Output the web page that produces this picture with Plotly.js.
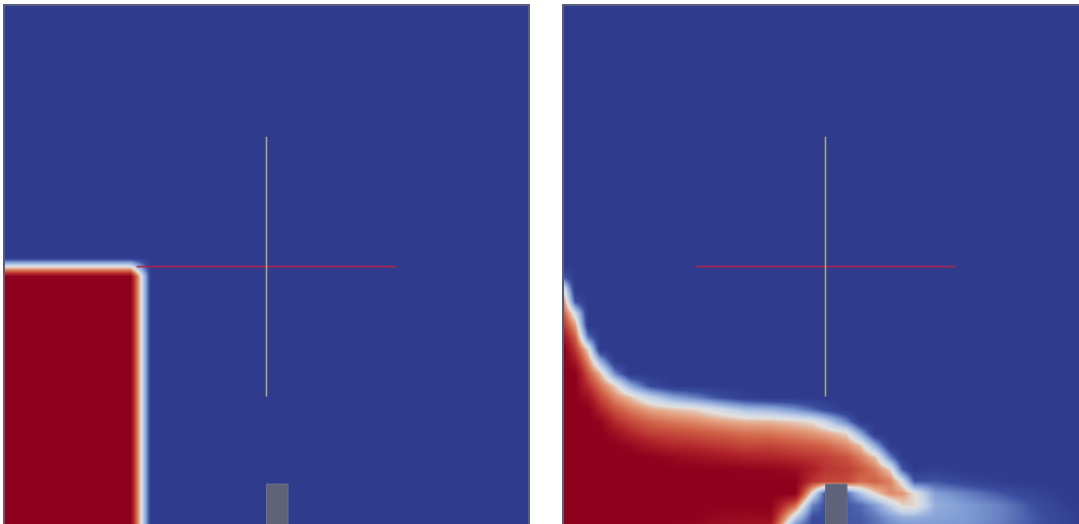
<!DOCTYPE html>
<html>
<head>
<meta charset="utf-8">
<script src="https://cdn.plot.ly/plotly-3.0.1.min.js"></script>
<style>
  html, body { margin: 0; padding: 0; overflow: hidden; background: #ffffff; }
  #chart { width: 1090px; height: 530px; }
</style>
</head>
<body>
<div id="chart"></div>
<script>
// ---- Data (metres, dam-break tank 0.584 x 0.584) ----
const TANK = [0, 0.584];

// Left panel: initial water column (volume fraction, bilinear-smoothed)
const X_LEFT = [0, 0.1400, 0.1630, 0.584];
const Y_LEFT = [0, 0.2820, 0.3040, 0.584];
const ALPHA_LEFT = [
  [1, 1, 0, 0],
  [1, 1, 0, 0],
  [0, 0, 0, 0],
  [0, 0, 0, 0]
];

// Right panel: later time, water fraction sampled on a coarse grid
const X_RIGHT = [0, 0.0123, 0.0268, 0.0402, 0.0569, 0.0737, 0.0960, 0.1206, 0.1463, 0.1742,
  0.2021, 0.2300, 0.2579, 0.2769, 0.2914, 0.3149, 0.3305, 0.3473, 0.3640, 0.3774,
  0.3908, 0.4143, 0.4478, 0.4868, 0.5259, 0.5650, 0.5840];
const Y_RIGHT = [0, 0.0134, 0.0268, 0.0402, 0.0536, 0.0670, 0.0804, 0.0938, 0.1072, 0.1206,
  0.1340, 0.1474, 0.1608, 0.1742, 0.1876, 0.2010, 0.2144, 0.2278, 0.2412, 0.2546,
  0.2680, 0.2814, 0.2948, 0.5840];
const ALPHA_RIGHT = [
  [1,1,1,1,1,1,1,1,.95,.93,.92,.88,.15,.08,.1,.12,.12,.16,.2,.2,.22,.23,.23,.18,.11,.04,0],
  [1,1,1,1,1,1,1,1,1,.97,.96,.97,.4,.1,.1,.12,.13,.18,.25,.3,.3,.27,.25,.2,.12,.04,0],
  [1,1,1,1,1,1,1,1,1,1,1,1,.7,.2,.1,.12,.15,.25,.4,.52,.52,.3,.25,.2,.1,.02,0],
  [1,1,1,1,1,1,1,1,1,1,1,1,1,.48,.1,.15,.35,.52,.64,.62,.5,.26,.2,.12,.05,0,0],
  [1,1,1,1,1,1,1,1,1,1,1,1,1,.82,.78,.78,.7,.72,.66,.47,.12,.12,.06,.02,0,0,0],
  [1,1,1,1,1,1,1,1,1,1,.99,.98,.95,.88,.82,.8,.75,.67,.52,.13,0,.03,0,0,0,0,0],
  [1,1,1,1,1,1,1,.97,.94,.91,.88,.87,.84,.82,.8,.75,.67,.55,.2,0,0,0,0,0,0,0,0],
  [1,1,1,1,1,.97,.9,.86,.84,.81,.78,.78,.75,.73,.71,.64,.55,.28,0,0,0,0,0,0,0,0,0],
  [1,1,1,1,.94,.86,.8,.77,.75,.72,.69,.68,.65,.62,.59,.52,.28,0,0,0,0,0,0,0,0,0,0],
  [1,1,1,.98,.84,.77,.71,.67,.64,.6,.57,.56,.53,.5,.41,.2,0,0,0,0,0,0,0,0,0,0,0],
  [1,1,1,.87,.75,.67,.59,.55,.52,.44,.34,.31,.23,.15,.08,0,0,0,0,0,0,0,0,0,0,0,0],
  [1,1,.93,.78,.64,.55,.41,.28,.2,.1,.03,0,0,0,0,0,0,0,0,0,0,0,0,0,0,0,0],
  [1,1,.83,.68,.52,.28,.08,0,0,0,0,0,0,0,0,0,0,0,0,0,0,0,0,0,0,0,0],
  [1,1,.74,.56,.2,0,0,0,0,0,0,0,0,0,0,0,0,0,0,0,0,0,0,0,0,0,0],
  [1,.91,.63,.31,0,0,0,0,0,0,0,0,0,0,0,0,0,0,0,0,0,0,0,0,0,0,0],
  [1,.81,.51,0,0,0,0,0,0,0,0,0,0,0,0,0,0,0,0,0,0,0,0,0,0,0,0],
  [.92,.72,.18,0,0,0,0,0,0,0,0,0,0,0,0,0,0,0,0,0,0,0,0,0,0,0,0],
  [.81,.6,0,0,0,0,0,0,0,0,0,0,0,0,0,0,0,0,0,0,0,0,0,0,0,0,0],
  [.72,.44,0,0,0,0,0,0,0,0,0,0,0,0,0,0,0,0,0,0,0,0,0,0,0,0,0],
  [.61,.1,0,0,0,0,0,0,0,0,0,0,0,0,0,0,0,0,0,0,0,0,0,0,0,0,0],
  [.47,0,0,0,0,0,0,0,0,0,0,0,0,0,0,0,0,0,0,0,0,0,0,0,0,0,0],
  [.12,0,0,0,0,0,0,0,0,0,0,0,0,0,0,0,0,0,0,0,0,0,0,0,0,0,0],
  [0,0,0,0,0,0,0,0,0,0,0,0,0,0,0,0,0,0,0,0,0,0,0,0,0,0,0],
  [0,0,0,0,0,0,0,0,0,0,0,0,0,0,0,0,0,0,0,0,0,0,0,0,0,0,0]
];

// Obstacle on the floor
const OBSTACLE_X = [0.2921, 0.3160];
const OBSTACLE_H = 0.0502;

// Centre-axes widget
const CROSS_CENTER = [0.292, 0.293];
const CROSS_HALF = 0.145;

// ---- Styling ----
const COLORSCALE = [
  [0.00, 'rgb(47,59,141)'],
  [0.10, 'rgb(58,76,158)'],
  [0.25, 'rgb(128,156,212)'],
  [0.40, 'rgb(196,210,232)'],
  [0.50, 'rgb(226,224,220)'],
  [0.60, 'rgb(228,160,128)'],
  [0.72, 'rgb(208,96,70)'],
  [0.86, 'rgb(176,36,42)'],
  [1.00, 'rgb(142,0,28)']
];

function field(x, y, z, xa, ya) {
  return {
    type: 'heatmap', x: x, y: y, z: z, xaxis: xa, yaxis: ya,
    zsmooth: 'best', zmin: 0, zmax: 1, colorscale: COLORSCALE,
    showscale: false, hoverinfo: 'skip'
  };
}
function crossLines(xa, ya) {
  const cx = CROSS_CENTER[0], cy = CROSS_CENTER[1];
  return [
    { type: 'scatter', mode: 'lines', xaxis: xa, yaxis: ya, hoverinfo: 'skip',
      x: [cx - CROSS_HALF, cx + CROSS_HALF], y: [cy, cy],
      line: { color: 'rgba(175,35,75,0.9)', width: 1.6 } },
    { type: 'scatter', mode: 'lines', xaxis: xa, yaxis: ya, hoverinfo: 'skip',
      x: [cx, cx], y: [cy - CROSS_HALF, cy + CROSS_HALF],
      line: { color: 'rgba(175,175,120,0.95)', width: 1.6 } }
  ];
}
function obstacle(xr, yr) {
  return { type: 'rect', xref: xr, yref: yr, layer: 'above',
    x0: OBSTACLE_X[0], x1: OBSTACLE_X[1], y0: 0, y1: OBSTACLE_H,
    fillcolor: 'rgb(95,99,121)', line: { width: 1, color: 'rgb(110,114,134)' } };
}

const data = [
  field(X_LEFT, Y_LEFT, ALPHA_LEFT, 'x', 'y'),
  field(X_RIGHT, Y_RIGHT, ALPHA_RIGHT, 'x2', 'y2'),
  ...crossLines('x', 'y'),
  ...crossLines('x2', 'y2')
];

const axisBase = {
  range: TANK, showgrid: false, zeroline: false, showticklabels: false, ticks: '',
  showline: true, mirror: true, linecolor: 'rgb(88,94,124)', linewidth: 2, fixedrange: true
};

const layout = {
  width: 1090, height: 530,
  margin: { l: 5, r: 3, t: 6, b: 1, pad: 0 },
  paper_bgcolor: '#ffffff', plot_bgcolor: 'rgb(47,59,141)',
  showlegend: false,
  xaxis: Object.assign({}, axisBase, { domain: [0, 523 / 1082], anchor: 'y' }),
  yaxis: Object.assign({}, axisBase, { domain: [0, 1], anchor: 'x' }),
  xaxis2: Object.assign({}, axisBase, { domain: [559 / 1082, 1], anchor: 'y2' }),
  yaxis2: Object.assign({}, axisBase, { domain: [0, 1], anchor: 'x2' }),
  shapes: [obstacle('x', 'y'), obstacle('x2', 'y2')]
};

Plotly.newPlot('chart', data, layout, { displayModeBar: false, staticPlot: true, responsive: false });
</script>
</body>
</html>
